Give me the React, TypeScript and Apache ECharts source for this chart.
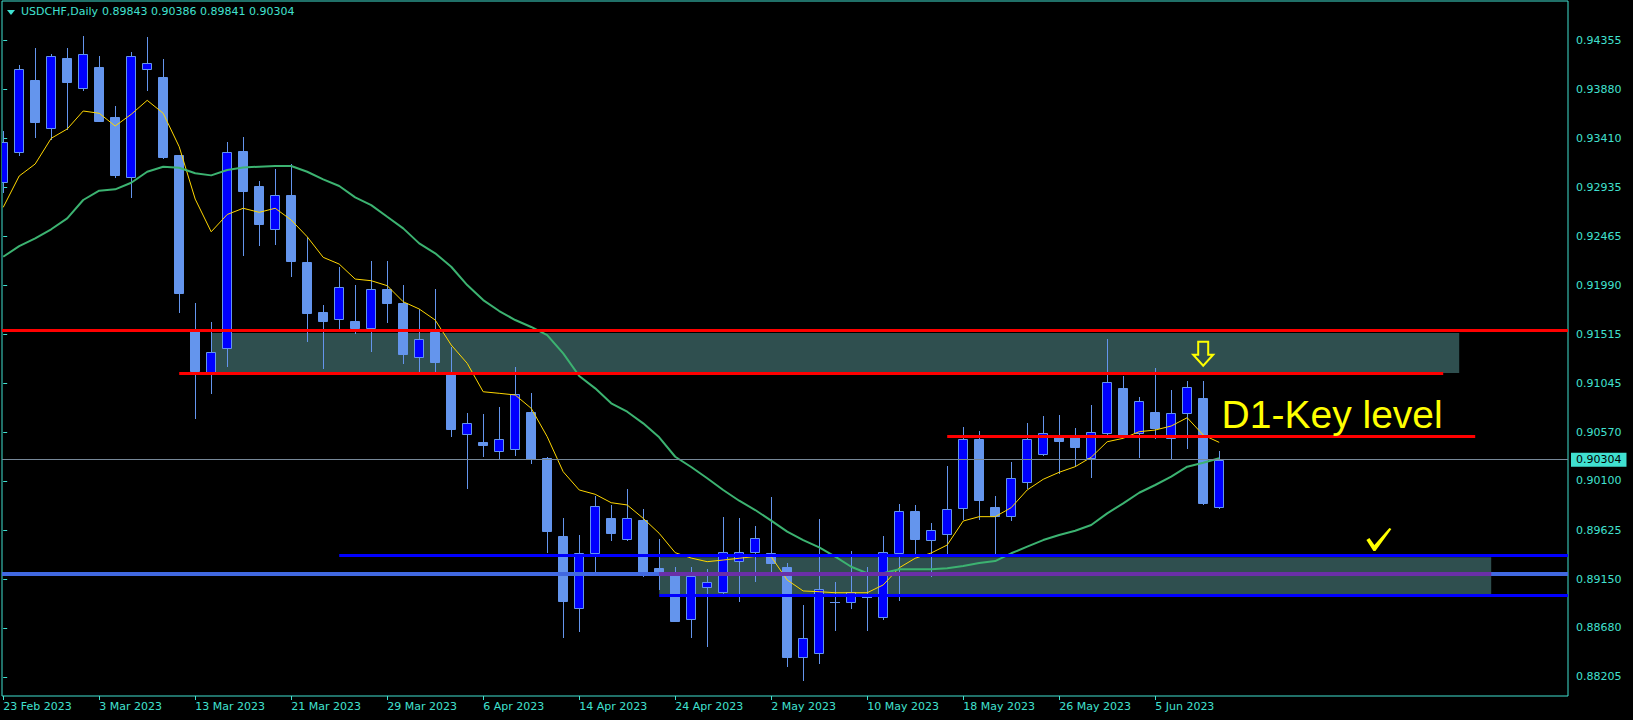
import React, { useEffect, useRef } from 'react';
import * as echarts from 'echarts';

const DATES = [
  '23 Feb 2023', '24 Feb 2023', '27 Feb 2023', '28 Feb 2023',
  '1 Mar 2023', '2 Mar 2023', '3 Mar 2023', '6 Mar 2023', '7 Mar 2023', '8 Mar 2023', '9 Mar 2023', '10 Mar 2023',
  '13 Mar 2023', '14 Mar 2023', '15 Mar 2023', '16 Mar 2023', '17 Mar 2023', '20 Mar 2023', '21 Mar 2023',
  '22 Mar 2023', '23 Mar 2023', '24 Mar 2023', '27 Mar 2023', '28 Mar 2023', '29 Mar 2023', '30 Mar 2023', '31 Mar 2023',
  '3 Apr 2023', '4 Apr 2023', '5 Apr 2023', '6 Apr 2023', '7 Apr 2023', '10 Apr 2023', '11 Apr 2023', '12 Apr 2023',
  '13 Apr 2023', '14 Apr 2023', '17 Apr 2023', '18 Apr 2023', '19 Apr 2023', '20 Apr 2023', '21 Apr 2023',
  '24 Apr 2023', '25 Apr 2023', '26 Apr 2023', '27 Apr 2023', '28 Apr 2023',
  '1 May 2023', '2 May 2023', '3 May 2023', '4 May 2023', '5 May 2023', '8 May 2023', '9 May 2023', '10 May 2023',
  '11 May 2023', '12 May 2023', '15 May 2023', '16 May 2023', '17 May 2023', '18 May 2023', '19 May 2023',
  '22 May 2023', '23 May 2023', '24 May 2023', '25 May 2023', '26 May 2023', '29 May 2023', '30 May 2023', '31 May 2023',
  '1 Jun 2023', '2 Jun 2023', '5 Jun 2023', '6 Jun 2023', '7 Jun 2023', '8 Jun 2023', '9 Jun 2023',
];

const OPEN = [
  0.92991, 0.93281, 0.93973, 0.93507, 0.94186, 0.93893, 0.94099, 0.93613, 0.93039, 0.94077,
  0.94002, 0.93249, 0.91558, 0.91142, 0.91381, 0.93287, 0.92949, 0.92531, 0.92862, 0.92212,
  0.91729, 0.91661, 0.91645, 0.91577, 0.91954, 0.91818, 0.91300, 0.91535, 0.91155, 0.90550,
  0.90475, 0.90391, 0.90405, 0.90765, 0.90321, 0.89567, 0.88869, 0.89400, 0.89741, 0.89541,
  0.89722, 0.89258, 0.89219, 0.88762, 0.89077, 0.89029, 0.89323, 0.89410, 0.89400, 0.89267,
  0.88401, 0.88434, 0.88929, 0.88932, 0.88978, 0.88782, 0.89400, 0.89812, 0.89533, 0.89584,
  0.89835, 0.90504, 0.89844, 0.89758, 0.90086, 0.90357, 0.90543, 0.90533, 0.90318, 0.90559,
  0.90994, 0.90559, 0.90762, 0.90511, 0.90753, 0.90898, 0.89843,
];
const HIGH = [
  0.93481, 0.94118, 0.94283, 0.94225, 0.94283, 0.94398, 0.94205, 0.93722, 0.94244, 0.94386,
  0.94176, 0.93249, 0.91818, 0.91638, 0.93371, 0.93420, 0.92997, 0.93110, 0.93162, 0.92459,
  0.91799, 0.92169, 0.91992, 0.92224, 0.92224, 0.91992, 0.91758, 0.91954, 0.91396, 0.90753,
  0.90746, 0.90811, 0.91197, 0.90946, 0.90333, 0.89738, 0.89577, 0.89954, 0.89867, 0.90018,
  0.89828, 0.89538, 0.89270, 0.89270, 0.89248, 0.89748, 0.89738, 0.89664, 0.89941, 0.89303,
  0.88900, 0.89729, 0.89120, 0.89425, 0.89270, 0.89567, 0.89876, 0.89867, 0.89696, 0.90246,
  0.90623, 0.90582, 0.89954, 0.90285, 0.90662, 0.90726, 0.90736, 0.90608, 0.90833, 0.91471,
  0.91113, 0.90907, 0.91188, 0.90978, 0.91065, 0.91065, 0.90386,
];
const LOW = [
  0.92894, 0.93249, 0.93425, 0.93400, 0.93497, 0.93877, 0.93577, 0.93039, 0.92846, 0.93877,
  0.93222, 0.91734, 0.90705, 0.90946, 0.91213, 0.92282, 0.92379, 0.92389, 0.92079, 0.91454,
  0.91188, 0.91556, 0.91526, 0.91358, 0.91638, 0.91242, 0.91155, 0.91155, 0.90536, 0.90034,
  0.90343, 0.90311, 0.90353, 0.90270, 0.89415, 0.88588, 0.88652, 0.89207, 0.89528, 0.89528,
  0.89181, 0.89055, 0.88745, 0.88594, 0.88507, 0.89013, 0.88942, 0.89135, 0.89216, 0.88314,
  0.88176, 0.88337, 0.88659, 0.88869, 0.88659, 0.88768, 0.88949, 0.89406, 0.89181, 0.89400,
  0.89731, 0.89731, 0.89400, 0.89722, 0.90034, 0.90350, 0.90173, 0.90246, 0.90134, 0.90555,
  0.90533, 0.90333, 0.90511, 0.90324, 0.90420, 0.89877, 0.89841,
];
const CLOSE = [
  0.93377, 0.94077, 0.93570, 0.94205, 0.93957, 0.94222, 0.93580, 0.93055, 0.94205, 0.94135,
  0.93232, 0.91911, 0.91165, 0.91342, 0.93281, 0.92904, 0.92585, 0.92859, 0.92227, 0.91725,
  0.91648, 0.91970, 0.91574, 0.91951, 0.91821, 0.91326, 0.91468, 0.91248, 0.90604, 0.90656,
  0.90449, 0.90501, 0.90936, 0.90314, 0.89618, 0.88942, 0.89403, 0.89857, 0.89599, 0.89741,
  0.89222, 0.89212, 0.88749, 0.89178, 0.89120, 0.89410, 0.89410, 0.89545, 0.89309, 0.88401,
  0.88579, 0.89052, 0.88925, 0.89029, 0.88968, 0.89415, 0.89812, 0.89538, 0.89622, 0.89825,
  0.90504, 0.89918, 0.89763, 0.90125, 0.90504, 0.90559, 0.90488, 0.90430, 0.90575, 0.91052,
  0.90543, 0.90869, 0.90614, 0.90753, 0.91004, 0.89889, 0.90304,
];

const MA_FAST = [
  0.92743, 0.93046, 0.93162, 0.93410, 0.93500, 0.93674, 0.93652, 0.93529, 0.93642, 0.93777,
  0.93652, 0.93329, 0.92823, 0.92507, 0.92674, 0.92734, 0.92695, 0.92734, 0.92621, 0.92459,
  0.92260, 0.92195, 0.92050, 0.92034, 0.91986, 0.91831, 0.91761, 0.91654, 0.91413, 0.91236,
  0.90961, 0.90946, 0.90930, 0.90801, 0.90527, 0.90188, 0.90012, 0.89970, 0.89889, 0.89867,
  0.89738, 0.89593, 0.89406, 0.89354, 0.89319, 0.89335, 0.89352, 0.89369, 0.89367, 0.89142,
  0.89036, 0.89029, 0.89019, 0.89019, 0.89019, 0.89094, 0.89260, 0.89352, 0.89403, 0.89480,
  0.89712, 0.89754, 0.89754, 0.89841, 0.90012, 0.90115, 0.90183, 0.90237, 0.90328, 0.90478,
  0.90511, 0.90575, 0.90591, 0.90630, 0.90710, 0.90543, 0.90472,
];
const MA_SLOW = [
  0.92266, 0.92369, 0.92444, 0.92531, 0.92637, 0.92814, 0.92904, 0.92917, 0.92981, 0.93087,
  0.93136, 0.93126, 0.93072, 0.93052, 0.93104, 0.93128, 0.93136, 0.93142, 0.93142, 0.93087,
  0.93014, 0.92949, 0.92840, 0.92765, 0.92652, 0.92540, 0.92395, 0.92299, 0.92169, 0.91992,
  0.91847, 0.91741, 0.91654, 0.91587, 0.91509, 0.91332, 0.91113, 0.90994, 0.90849, 0.90768,
  0.90656, 0.90521, 0.90333, 0.90234, 0.90125, 0.90012, 0.89908, 0.89818, 0.89715, 0.89609,
  0.89528, 0.89458, 0.89367, 0.89270, 0.89207, 0.89207, 0.89245, 0.89245, 0.89245, 0.89255,
  0.89277, 0.89306, 0.89325, 0.89400, 0.89464, 0.89528, 0.89577, 0.89618, 0.89673, 0.89786,
  0.89883, 0.89985, 0.90060, 0.90140, 0.90237, 0.90275, 0.90318,
];

const Y_TICKS = [
  0.88205, 0.88680, 0.89150, 0.89625, 0.90100, 0.90570, 0.91045,
  0.91515, 0.91990, 0.92465, 0.92935, 0.93410, 0.93880, 0.94355,
];
const X_TICKS = [0, 6, 12, 18, 24, 30, 36, 42, 48, 54, 60, 66, 72];

const SYMBOL = 'USDCHF,Daily';
const LAST_BAR = { open: 0.89843, high: 0.90386, low: 0.89841, close: 0.90304 };

// horizontal levels: [fromIndex, toIndex, price]
const RED_TOP = 0.9156;
const RED_MID = [11, 90, 0.91139];
const RED_KEY = [59, 92, 0.90533];
const BLUE_TOP = [21, 0.89377];
const BLUE_BOTTOM = [41, 0.8899];
const ROYAL_LEVEL = 0.892;
const ZONE_UPPER = [13, 91, 0.91529, 0.91143];
const ZONE_LOWER = [41, 93, 0.89361, 0.89006];

const X_MIN = -0.075;
const X_MAX = 97.8;
const Y_MIN = 0.88021;
const Y_MAX = 0.94737;

const FG = '#40E0D0';
const FONT = 'DejaVu Sans';

export default function App() {
  const ref = useRef<HTMLDivElement>(null);

  useEffect(() => {
    if (!ref.current) return;
    const chart = echarts.init(ref.current, undefined, { renderer: 'svg' });

    const candleData = OPEN.map((o, i) => [i, o, HIGH[i], LOW[i], CLOSE[i]]);

    const option: any = {
      animation: false,
      backgroundColor: '#000000',
      textStyle: { fontFamily: FONT },
      grid: {
        left: 2,
        top: 1,
        width: 1566,
        height: 695,
        show: true,
        borderColor: FG,
        borderWidth: 1,
        backgroundColor: 'transparent',
        containLabel: false,
      },
      xAxis: {
        type: 'value',
        min: X_MIN,
        max: X_MAX,
        axisLine: { show: false },
        splitLine: { show: false },
        axisTick: {
          show: true,
          customValues: X_TICKS,
          length: 4,
          lineStyle: { color: FG },
        },
        axisLabel: {
          customValues: X_TICKS,
          formatter: (v: number) => DATES[Math.round(v)] ?? '',
          color: FG,
          fontSize: 11,
          fontFamily: FONT,
          align: 'left',
          margin: 5,
        },
      },
      yAxis: {
        type: 'value',
        position: 'right',
        min: Y_MIN,
        max: Y_MAX,
        axisLine: { show: false },
        splitLine: { show: false },
        axisTick: {
          show: true,
          customValues: Y_TICKS,
          length: 4,
          lineStyle: { color: FG },
        },
        axisLabel: {
          customValues: Y_TICKS,
          formatter: (v: number) => v.toFixed(5),
          color: FG,
          fontSize: 11,
          fontFamily: FONT,
          margin: 8,
        },
      },
      series: [
        {
          type: 'custom',
          name: 'candles',
          clip: true,
          z: 2,
          data: candleData,
          encode: { x: 0, y: [1, 2, 3, 4] },
          markArea: {
            silent: true,
            itemStyle: { color: '#2F4F4F', opacity: 1 },
            data: [
              [{ coord: [ZONE_UPPER[0], ZONE_UPPER[2]] }, { coord: [ZONE_UPPER[1], ZONE_UPPER[3]] }],
              [{ coord: [ZONE_LOWER[0], ZONE_LOWER[2]] }, { coord: [ZONE_LOWER[1], ZONE_LOWER[3]] }],
            ],
          },
          renderItem: (params: any, api: any) => {
            const i = api.value(0);
            const o = api.value(1);
            const h = api.value(2);
            const l = api.value(3);
            const c = api.value(4);
            const pO = api.coord([i, o]);
            const pC = api.coord([i, c]);
            const pH = api.coord([i, h]);
            const pL = api.coord([i, l]);
            const xr = Math.round(pO[0]);
            const cx = xr + 0.5;
            const top = Math.round(Math.min(pO[1], pC[1]));
            const bot = Math.round(Math.max(pO[1], pC[1]));
            const left = xr - 5;
            const bull = c > o;
            const children: any[] = [
              {
                type: 'line',
                shape: { x1: cx, y1: Math.round(pH[1]), x2: cx, y2: Math.round(pL[1]) + 1 },
                style: { stroke: '#6495ED', lineWidth: 1 },
              },
            ];
            if (bot - top < 2) {
              children.push({
                type: 'line',
                shape: { x1: left, y1: top + 0.5, x2: left + 10, y2: top + 0.5 },
                style: { stroke: '#6495ED', lineWidth: 1 },
              });
            } else {
              children.push({
                type: 'rect',
                shape: { x: left + 0.5, y: top + 0.5, width: 9, height: bot - top },
                style: { fill: bull ? '#0000FF' : '#6495ED', stroke: '#6495ED', lineWidth: 1 },
              });
            }
            return { type: 'group', children };
          },
        },
        {
          type: 'line',
          name: 'MA fast',
          z: 3,
          showSymbol: false,
          symbol: 'none',
          data: MA_FAST.map((v, i) => [i, v]),
          lineStyle: { color: '#FFD700', width: 1 },
          markLine: {
            silent: true,
            symbol: ['none', 'none'],
            animation: false,
            label: { show: false },
            data: [
              [
                {
                  coord: [X_MIN, LAST_BAR.close],
                  lineStyle: { color: '#778899', width: 1, type: 'solid' },
                  label: {
                    show: true,
                    position: 'end',
                    distance: 3,
                    formatter: () => LAST_BAR.close.toFixed(5),
                    color: '#000000',
                    backgroundColor: FG,
                    fontSize: 11,
                    fontFamily: FONT,
                    padding: [2, 5, 1, 5],
                  },
                },
                { coord: [X_MAX, LAST_BAR.close] },
              ],
              [
                { coord: [X_MIN, ROYAL_LEVEL], lineStyle: { color: '#4169E1', width: 4, type: 'solid' } },
                { coord: [X_MAX, ROYAL_LEVEL] },
              ],
              [
                { coord: [ZONE_LOWER[0], ROYAL_LEVEL], lineStyle: { color: '#6A2FA8', width: 4, type: 'solid' } },
                { coord: [ZONE_LOWER[1], ROYAL_LEVEL] },
              ],
              [
                { coord: [X_MIN, RED_TOP], lineStyle: { color: '#FF0000', width: 3, type: 'solid' } },
                { coord: [X_MAX, RED_TOP] },
              ],
              [
                { coord: [RED_MID[0], RED_MID[2]], lineStyle: { color: '#FF0000', width: 3, type: 'solid' } },
                { coord: [RED_MID[1], RED_MID[2]] },
              ],
              [
                { coord: [RED_KEY[0], RED_KEY[2]], lineStyle: { color: '#FF0000', width: 3, type: 'solid' } },
                { coord: [RED_KEY[1], RED_KEY[2]] },
              ],
              [
                { coord: [BLUE_TOP[0], BLUE_TOP[1]], lineStyle: { color: '#0000FF', width: 3, type: 'solid' } },
                { coord: [X_MAX, BLUE_TOP[1]] },
              ],
              [
                { coord: [BLUE_BOTTOM[0], BLUE_BOTTOM[1]], lineStyle: { color: '#0000FF', width: 3, type: 'solid' } },
                { coord: [X_MAX, BLUE_BOTTOM[1]] },
              ],
            ],
          },
        },
        {
          type: 'line',
          name: 'MA slow',
          z: 3,
          showSymbol: false,
          symbol: 'none',
          data: MA_SLOW.map((v, i) => [i, v]),
          lineStyle: { color: '#3CB371', width: 2 },
        },
      ],
    };

    chart.setOption(option);

    const toPx = (x: number, p: number) => chart.convertToPixel({ gridIndex: 0 }, [x, p]) as number[];
    const [tx, ty] = toPx(76.15, 0.90738);
    const [ax, ay] = toPx(75, 0.91445);
    const [kx, ky] = toPx(85.2, 0.89644);

    chart.setOption({
      graphic: [
        {
          type: 'polygon',
          z: 100,
          shape: { points: [[7, 10], [15, 10], [11, 15]] },
          style: { fill: FG },
        },
        {
          type: 'text',
          z: 100,
          left: 21,
          top: 6,
          style: { text: SYMBOL, fill: FG, fontSize: 11, fontFamily: FONT },
        },
        {
          type: 'text',
          z: 100,
          left: 102,
          top: 6,
          style: {
            text: [LAST_BAR.open, LAST_BAR.high, LAST_BAR.low, LAST_BAR.close].map((v) => v.toFixed(5)).join(' '),
            fill: FG,
            fontSize: 11,
            fontFamily: FONT,
          },
        },
        {
          type: 'text',
          z: 100,
          x: tx,
          y: ty,
          style: {
            text: 'D1-Key level',
            fill: '#FFFF00',
            fontSize: 39,
            fontFamily: 'Liberation Sans',
            verticalAlign: 'middle',
            align: 'left',
          },
        },
        {
          type: 'polygon',
          z: 100,
          shape: {
            points: [
              [ax - 5, ay], [ax + 5, ay], [ax + 5, ay + 13], [ax + 10, ay + 13],
              [ax, ay + 24], [ax - 10, ay + 13], [ax - 5, ay + 13],
            ],
          },
          style: { fill: 'none', stroke: '#FFFF00', lineWidth: 2 },
        },
        {
          type: 'polygon',
          z: 100,
          shape: {
            points: [
              [kx, ky + 12], [kx + 3, ky + 10], [kx + 8, ky + 17], [kx + 23, ky],
              [kx + 25, ky + 1], [kx + 9, ky + 23], [kx + 7, ky + 23],
            ],
          },
          style: { fill: '#FFFF00' },
        },
      ],
    });

    return () => chart.dispose();
  }, []);

  return (
    <div
      ref={ref}
      style={{ position: 'fixed', left: 0, top: 0, width: 1633, height: 720, background: '#000' }}
    />
  );
}
